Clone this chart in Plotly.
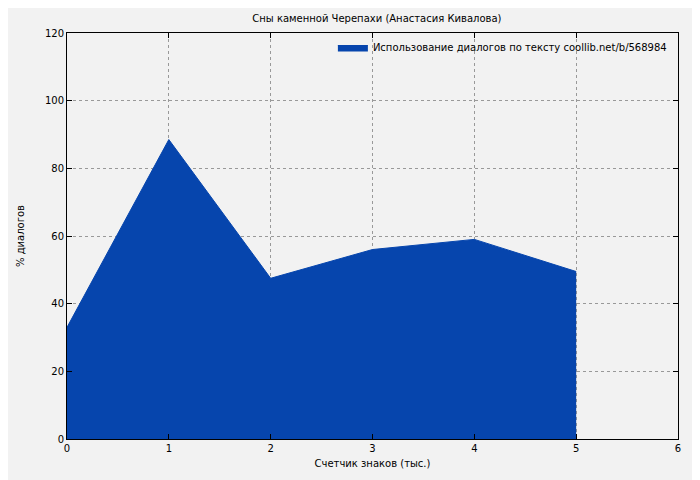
import plotly.graph_objects as go

# данные
x_vals = [0, 1, 2, 3, 4, 5]
y_vals = [33, 88.5, 47.5, 56, 59, 49.5]
series_name = 'Использование диалогов по тексту coollib.net/b/568984'

fig = go.Figure()
fig.add_trace(go.Scatter(
    x=x_vals, y=y_vals, name=series_name, mode='lines',
    fill='tozeroy', fillcolor='#0645ad', line=dict(color='#0645ad', width=1)))

axis_style = dict(
    showline=True, linecolor='black', linewidth=1, mirror='ticks',
    ticks='inside', ticklen=5, tickcolor='black',
    showgrid=True, gridcolor='#999999', griddash='dot', gridwidth=1,
    zeroline=False, tickfont=dict(size=10, color='black'))

fig.update_layout(
    width=700, height=480,
    paper_bgcolor='#f2f2f2', plot_bgcolor='#f2f2f2',
    font=dict(family='DejaVu Sans', size=10, color='black'),
    title=dict(text='Сны каменной Черепахи (Анастасия Кивалова)',
               x=0.527, xanchor='center', y=0.985, font=dict(size=10)),
    margin=dict(l=53, r=30, t=25, b=49),
    xaxis=dict(axis_style, range=[0, 6], dtick=1,
               title=dict(text='Счетчик знаков (тыс.)', standoff=6,
                          font=dict(size=10))),
    yaxis=dict(axis_style, range=[0, 120], dtick=20,
               title=dict(text='% диалогов', standoff=18,
                          font=dict(size=10))),
    legend=dict(x=0.99, y=1.0, xanchor='right', yanchor='top',
                bgcolor='rgba(0,0,0,0)', font=dict(size=10)),
    showlegend=True)

fig.write_html('out.html')
